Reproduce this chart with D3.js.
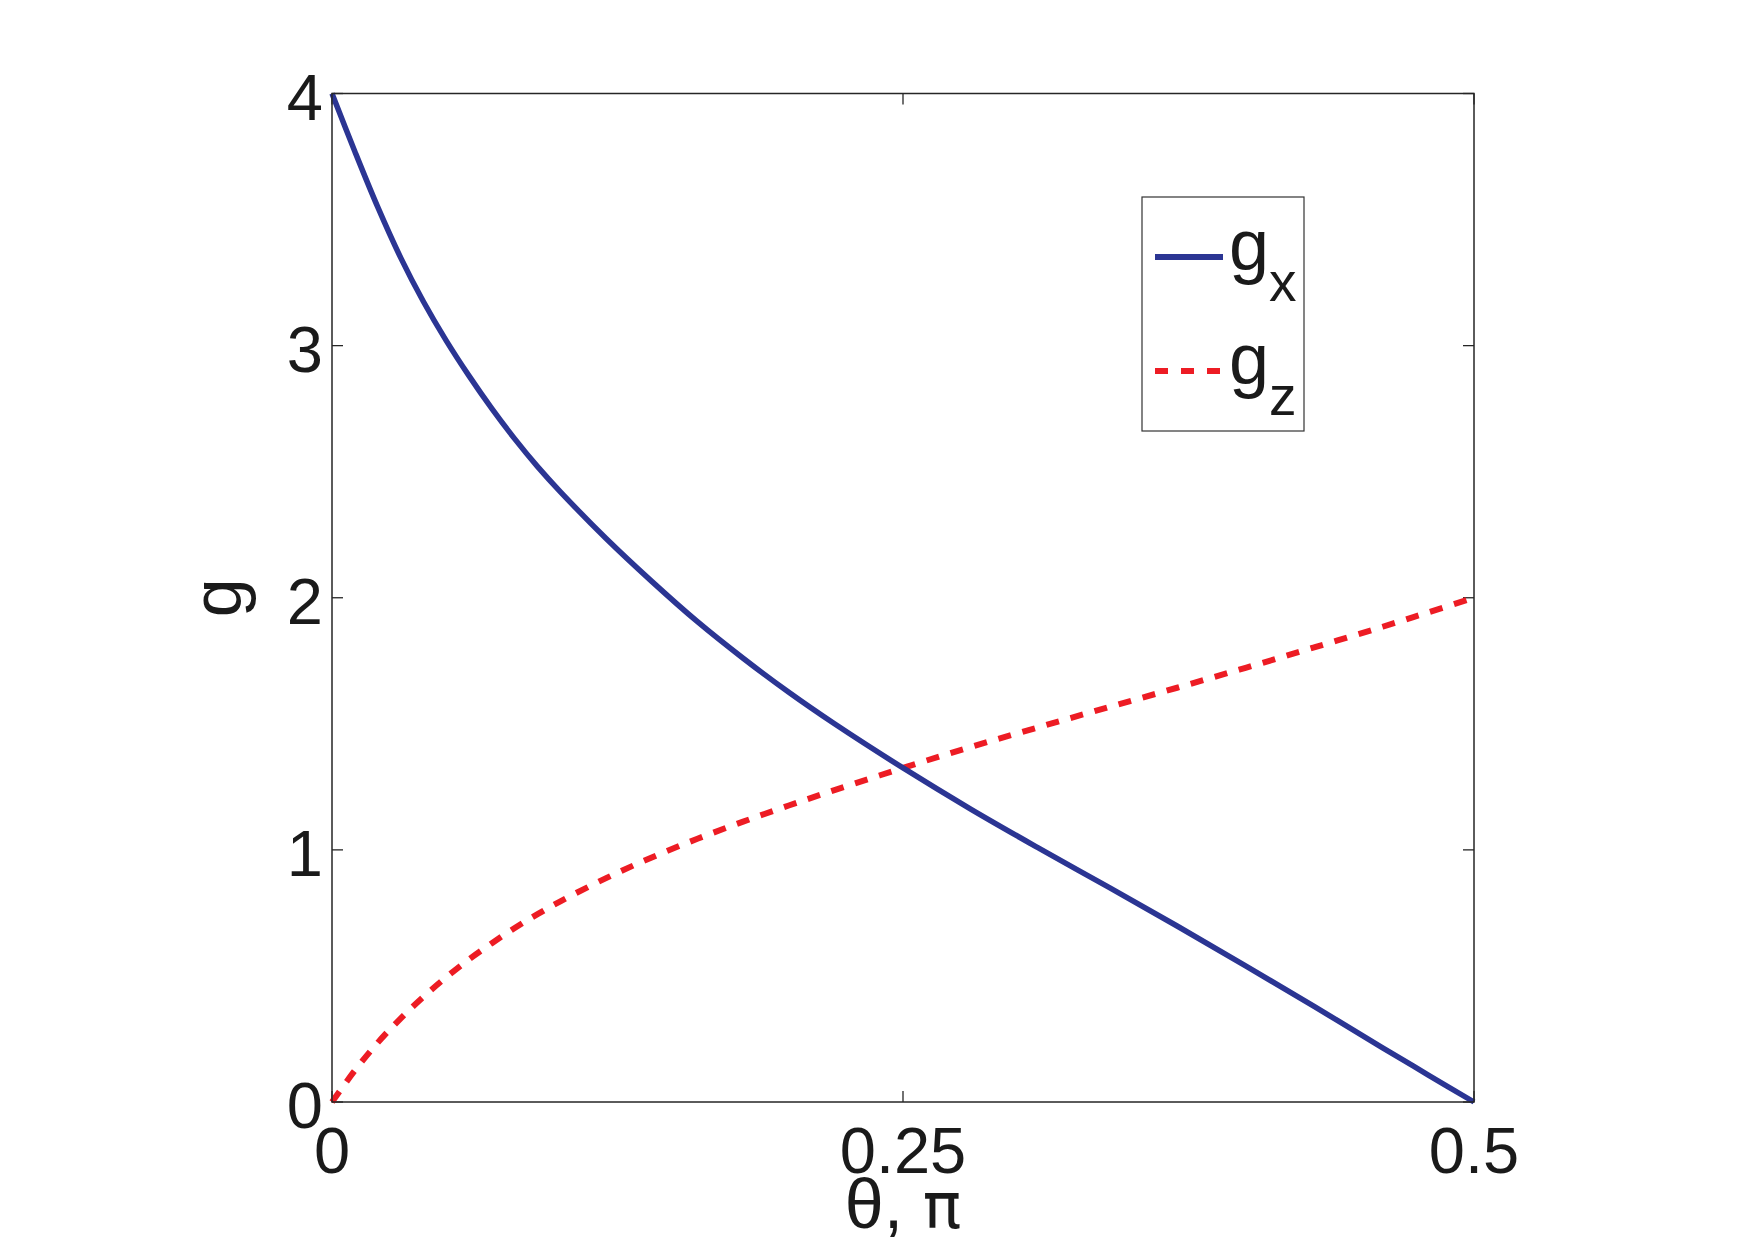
<!DOCTYPE html>
<html>
<head>
<meta charset="utf-8">
<script src="https://cdn.jsdelivr.net/npm/d3@7"></script>
<style>
  body { margin:0; background:#fff; }
  text { font-family: "Liberation Sans", Arial, Helvetica, sans-serif; fill:#1a1a1a; }
</style>
</head>
<body>
<div class="chart"></div>
<script>
// theta in units of pi
var theta = [0, 0.01, 0.02, 0.03, 0.04, 0.05, 0.06, 0.07, 0.08, 0.09, 0.10, 0.12, 0.14, 0.16, 0.18, 0.20, 0.22, 0.25, 0.28, 0.31, 0.34, 0.37, 0.40, 0.43, 0.46, 0.48, 0.50];
var gx = [4.00, 3.77, 3.55, 3.35, 3.175, 3.02, 2.88, 2.75, 2.63, 2.52, 2.42, 2.235, 2.065, 1.905, 1.76, 1.625, 1.50, 1.325, 1.16, 1.004, 0.852, 0.698, 0.540, 0.379, 0.215, 0.107, 0];
var gz = [0, 0.125, 0.235, 0.331, 0.417, 0.495, 0.566, 0.63, 0.69, 0.745, 0.796, 0.888, 0.970, 1.044, 1.112, 1.176, 1.237, 1.325, 1.409, 1.488, 1.566, 1.643, 1.722, 1.803, 1.885, 1.942, 2.0];
var xTicks = [0, 0.25, 0.5];
var xTickLabels = ["0", "0.25", "0.5"];
var yTicks = [0, 1, 2, 3, 4];
var seriesNames = ["x", "z"];

var values = { width:1755, height:1240, left:332, right:1474, top:93.5, bottom:1102 };

var x = d3.scaleLinear().domain([0, 0.5]).range([values.left, values.right]);
var y = d3.scaleLinear().domain([0, 4]).range([values.bottom, values.top]);

var svg = d3.select('.chart')
            .append('svg')
            .attr("width", values.width)
            .attr("height", values.height);

// tick marks on all four sides, pointing inward
var tickLen = 11;
var frame = svg.append("g").attr("stroke", "#262626").attr("stroke-width", 1.3);
xTicks.forEach(function (t) {
    frame.append("line").attr("x1", x(t)).attr("x2", x(t)).attr("y1", values.bottom).attr("y2", values.bottom - tickLen);
    frame.append("line").attr("x1", x(t)).attr("x2", x(t)).attr("y1", values.top).attr("y2", values.top + tickLen);
});
yTicks.forEach(function (t) {
    frame.append("line").attr("x1", values.left).attr("x2", values.left + tickLen).attr("y1", y(t)).attr("y2", y(t));
    frame.append("line").attr("x1", values.right).attr("x2", values.right - tickLen).attr("y1", y(t)).attr("y2", y(t));
});

// tick labels
svg.selectAll(".xlab")
    .data(xTicks)
    .enter()
    .append("text")
    .attr("x", function (d) { return x(d); })
    .attr("y", values.bottom + 71)
    .attr("text-anchor", "middle")
    .style("font-size", "65px")
    .text(function (d, i) { return xTickLabels[i]; });

svg.selectAll(".ylab")
    .data(yTicks)
    .enter()
    .append("text")
    .attr("x", values.left - 9)
    .attr("y", function (d) { return y(d) + 26; })
    .attr("text-anchor", "end")
    .style("font-size", "65px")
    .text(function (d) { return d; });

// axis labels
var xl = svg.append("text")
    .attr("x", x(0.25))
    .attr("y", 1228)
    .attr("text-anchor", "middle")
    .style("font-size", "70px")
    .text("θ, ");
xl.append("tspan").style("font-family", "'DejaVu Sans'").style("font-size", "64px").text("π");

svg.append("text")
    .attr("transform", "translate(241," + ((values.top + values.bottom) / 2) + ") rotate(-90)")
    .attr("text-anchor", "middle")
    .style("font-size", "70px")
    .text("g");

// curves
var line = d3.line()
    .x(function (d) { return x(d[0]); })
    .y(function (d) { return y(d[1]); })
    .curve(d3.curveCatmullRom.alpha(0.5));

var gxData = theta.map(function (t, i) { return [t, gx[i]]; });
var gzData = theta.map(function (t, i) { return [t, gz[i]]; });

svg.append("path")
    .attr("d", line(gzData))
    .attr("fill", "none")
    .attr("stroke", "#ed1c24")
    .attr("stroke-width", 6)
    .attr("stroke-dasharray", "13,12");

svg.append("path")
    .attr("d", line(gxData))
    .attr("fill", "none")
    .attr("stroke", "#2b3593")
    .attr("stroke-width", 5.5);

// box
svg.append("rect")
    .attr("x", values.left).attr("y", values.top)
    .attr("width", values.right - values.left)
    .attr("height", values.bottom - values.top)
    .attr("fill", "none")
    .attr("stroke", "#262626")
    .attr("stroke-width", 1.5);

// legend
var legend = svg.append("g");
legend.append("rect")
    .attr("x", 1142).attr("y", 197)
    .attr("width", 162).attr("height", 234)
    .attr("fill", "#fff")
    .attr("stroke", "#333")
    .attr("stroke-width", 1.2);

var legendRows = [
    { name: seriesNames[0], y: 257, color: "#2b3593", dash: null, width: 6 },
    { name: seriesNames[1], y: 371, color: "#ed1c24", dash: "13,13", width: 6 }
];
legendRows.forEach(function (r) {
    legend.append("line")
        .attr("x1", 1155).attr("x2", 1223)
        .attr("y1", r.y).attr("y2", r.y)
        .attr("stroke", r.color)
        .attr("stroke-width", r.width)
        .attr("stroke-dasharray", r.dash);
    var t = legend.append("text")
        .attr("x", 1229)
        .attr("y", r.y + 13)
        .style("font-size", "72px")
        .text("g");
    t.append("tspan")
        .attr("dy", 31)
        .style("font-size", "55px")
        .text(r.name);
});
</script>
</body>
</html>
